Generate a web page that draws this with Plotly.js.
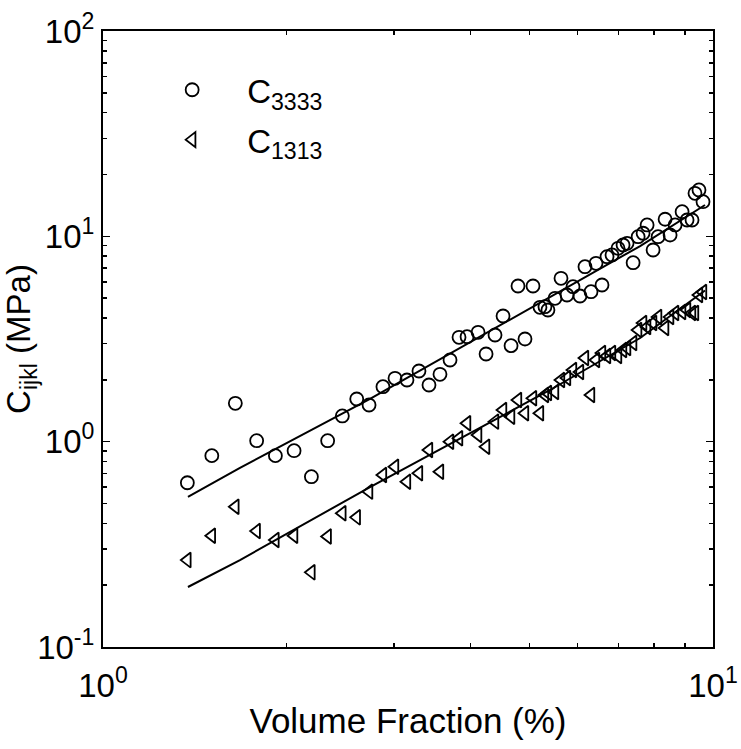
<!DOCTYPE html>
<html>
<head>
<meta charset="utf-8">
<script src="https://cdn.plot.ly/plotly-3.0.1.min.js"></script>
<style>
  html, body { margin: 0; padding: 0; background: #fff; }
  #chart { width: 741px; height: 749px; }
</style>
</head>
<body>
<div id="chart"></div>
<script>
// volume fraction (%) of each sample, shared by both moduli
var volumeFraction = [1.375, 1.508, 1.648, 1.786, 1.917, 2.057, 2.196, 2.335, 2.468, 2.606,
  2.730, 2.877, 3.011, 3.150, 3.296, 3.423, 3.568, 3.706, 3.834, 3.952,
  4.120, 4.246, 4.392, 4.527, 4.666, 4.790, 4.918, 5.069, 5.204, 5.303,
  5.363, 5.508, 5.634, 5.763, 5.895, 6.053, 6.168, 6.310, 6.430, 6.577,
  6.703, 6.830, 6.987, 7.121, 7.230, 7.397, 7.538, 7.681, 7.798, 7.976,
  8.128, 8.346, 8.505, 8.667, 8.899, 9.067, 9.239, 9.343, 9.485, 9.630];

var c3333 = [0.631, 0.855, 1.538, 1.011, 0.855, 0.904, 0.675, 1.011, 1.334, 1.614,
  1.509, 1.852, 2.035, 1.997, 2.209, 1.888, 2.129, 2.499, 3.224, 3.245,
  3.409, 2.673, 3.308, 4.093, 2.935, 5.731, 3.162, 5.731, 4.512, 4.542,
  4.378, 4.992, 6.246, 5.180, 5.686, 5.122, 7.114, 5.376, 7.390, 5.794,
  7.960, 8.114, 8.745, 9.075, 9.250, 7.440, 9.96, 10.35, 11.36, 8.58,
  9.96, 12.11, 10.15, 11.36, 13.18, 12.01, 12.01, 16.20, 16.82, 14.75];

var c1313 = [0.265, 0.348, 0.482, 0.367, 0.332, 0.348, 0.231, 0.345, 0.448, 0.428,
  0.571, 0.688, 0.755, 0.638, 0.702, 0.911, 0.714, 1.000, 1.039, 1.229,
  1.078, 0.945, 1.252, 1.427, 1.323, 1.596, 1.375, 1.627, 1.375, 1.688,
  1.726, 1.746, 1.997, 2.042, 2.234, 2.184, 2.556, 1.688, 2.499, 2.703,
  2.614, 2.703, 2.614, 2.796, 2.860, 3.024, 3.499, 3.784, 3.618, 3.784,
  4.047, 3.577, 4.047, 4.233, 4.281, 4.378, 4.233, 4.233, 5.180, 5.358];

// fitted curves
var fitX3333 = [1.378, 1.677, 2.740, 5.613, 7.595, 9.703];
var fit3333 = [0.538, 0.745, 1.614, 5.358, 8.97, 14.21];
var fitX1313 = [1.378, 1.677, 2.740, 5.405, 7.595, 9.703];
var fit1313 = [0.196, 0.265, 0.601, 1.785, 3.198, 5.45];

var xTicks = [1, 10];
var xTickText = ['10<sup>0</sup>', '10<sup>1</sup>'];
var yTicks = [0.1, 1, 10, 100];
var yTickText = ['10<sup>-1</sup>', '10<sup>0</sup>', '10<sup>1</sup>', '10<sup>2</sup>'];

var xMinor = [2, 3, 4, 5, 6, 7, 8, 9];
var yMinor = [0.2, 0.3, 0.4, 0.5, 0.6, 0.7, 0.8, 0.9,
  2, 3, 4, 5, 6, 7, 8, 9, 20, 30, 40, 50, 60, 70, 80, 90];

var trace1 = {
  x: volumeFraction,
  y: c3333,
  mode: 'markers',
  type: 'scatter',
  name: 'C<sub>3333</sub>',
  legendgroup: 'a',
  marker: { symbol: 'circle-open', size: 13, color: 'black', line: { width: 1.8, color: 'black' } }
};

var trace2 = {
  x: volumeFraction,
  y: c1313,
  mode: 'markers',
  type: 'scatter',
  name: 'C<sub>1313</sub>',
  legendgroup: 'b',
  marker: { symbol: 'triangle-left-open', size: 13, color: 'black', line: { width: 1.8, color: 'black' } }
};

var trace3 = {
  x: fitX3333,
  y: fit3333,
  mode: 'lines',
  type: 'scatter',
  showlegend: false,
  line: { color: 'black', width: 2 }
};

var trace4 = {
  x: fitX1313,
  y: fit1313,
  mode: 'lines',
  type: 'scatter',
  showlegend: false,
  line: { color: 'black', width: 2 }
};

var data = [trace1, trace2, trace3, trace4];

var axisStyle = {
  type: 'log',
  showline: true,
  linecolor: 'black',
  linewidth: 2,
  mirror: 'ticks',
  ticks: 'inside',
  ticklen: 7,
  tickwidth: 1.5,
  tickcolor: 'black',
  showgrid: false,
  zeroline: false,
  tickmode: 'array',
  tickfont: { size: 33, color: 'black' }
};

var layout = {
  width: 741,
  height: 749,
  margin: { l: 103, r: 28, t: 31, b: 102 },
  paper_bgcolor: 'white',
  plot_bgcolor: 'white',
  font: { family: 'Liberation Sans, Arial, sans-serif', color: 'black', size: 33 },
  showlegend: true,
  legend: {
    x: 0.056, y: 0.95, xanchor: 'left', yanchor: 'top',
    itemwidth: 100,
    traceorder: 'grouped',
    tracegroupgap: 4,
    bgcolor: 'rgba(0,0,0,0)',
    font: { size: 33 }
  },
  xaxis: Object.assign({}, axisStyle, {
    range: [0, 1],
    tickvals: xTicks,
    ticktext: xTickText,
    ticklabelstandoff: 8,
    minor: { tickvals: xMinor, ticks: 'inside', ticklen: 4, tickwidth: 1.5, tickcolor: 'black' },
    title: { text: 'Volume Fraction (%)', font: { size: 35 }, standoff: 6 }
  }),
  yaxis: Object.assign({}, axisStyle, {
    range: [-1, 2],
    tickvals: yTicks,
    ticktext: yTickText,
    minor: { tickvals: yMinor, ticks: 'inside', ticklen: 4, tickwidth: 1.5, tickcolor: 'black' },
    title: { text: 'C<sub>ijkl</sub> (MPa)', font: { size: 33 }, standoff: 8 }
  })
};

Plotly.newPlot('chart', data, layout, { displayModeBar: false, staticPlot: true });
</script>
</body>
</html>
